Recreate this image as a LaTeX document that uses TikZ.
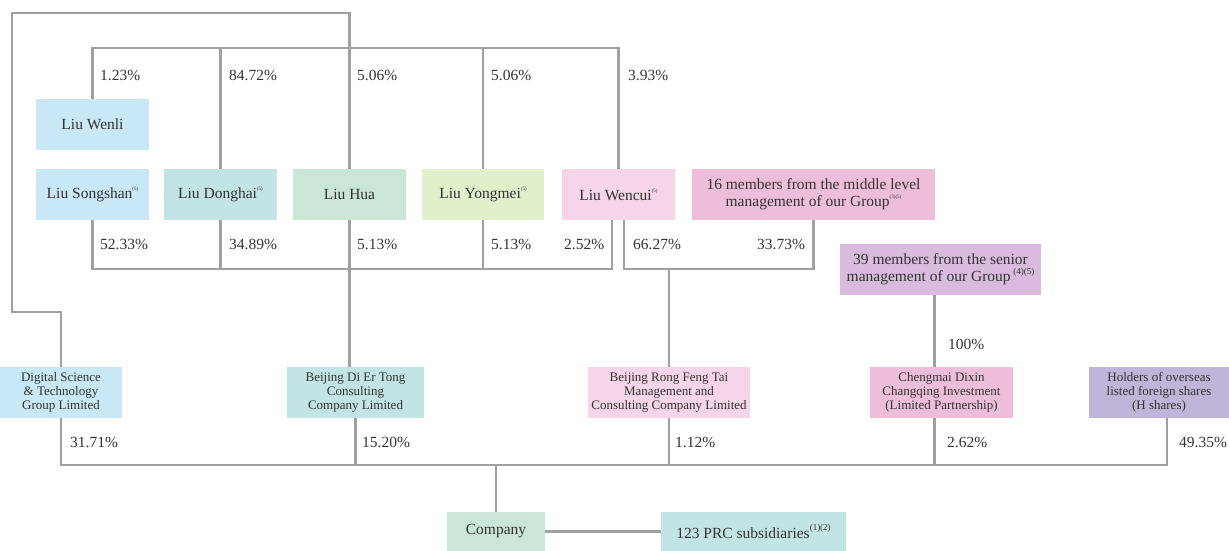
\documentclass[tikz,border=0pt]{standalone}
\usepackage{fontspec}
\setmainfont{Liberation Serif}
\usepackage{tikz}

\definecolor{ink}{HTML}{333333}
\definecolor{wire}{HTML}{A0A0A0}
\definecolor{skyblue}{HTML}{C8E8F6}
\definecolor{teal}{HTML}{C2E4E4}
\definecolor{mint}{HTML}{C9E6D6}
\definecolor{lime}{HTML}{E1EFCB}
\definecolor{rose}{HTML}{F5D5E7}
\definecolor{pink}{HTML}{EDBDD9}
\definecolor{orchid}{HTML}{D9BCDD}
\definecolor{lavender}{HTML}{C0B5D8}

\newcommand{\lbl}{\fontsize{15.5}{17}\selectfont}
\newcommand{\sml}{\fontsize{13}{14}\selectfont}
\newcommand{\fn}[1]{\raisebox{1.1ex}{\fontsize{5}{5}\selectfont #1}}
\newcommand{\fnb}[1]{\raisebox{1.0ex}{\fontsize{9}{9}\selectfont #1}}

\tikzset{
    holder/.style={fill=#1, inner sep=0pt, minimum height=51pt, text=ink, font=\lbl, align=center},
    firm/.style={fill=#1, inner sep=0pt, minimum height=51pt, text=ink, font=\sml, align=center},
    pct/.style={anchor=west, inner sep=0pt, text=ink, font=\lbl},
    link/.style={draw=wire, line width=2.2pt}
}

\begin{document}
\begin{tikzpicture}[x=1pt, y=-1pt]
    \useasboundingbox (0,0) rectangle (1229,551);

    % Individual shareholders
    \node[holder=skyblue, minimum width=113pt] (wenli) at (92.5,124.5) {Liu Wenli};
    \node[holder=skyblue, minimum width=113pt] (songshan) at (92.5,194.5) {Liu Songshan\fn{(5)}};
    \node[holder=teal, minimum width=113pt] (donghai) at (220.5,194.5) {Liu Donghai\fn{(5)}};
    \node[holder=mint, minimum width=113pt] (hua) at (349.5,194.5) {Liu Hua};
    \node[holder=lime, minimum width=122pt] (yongmei) at (483,194.5) {Liu Yongmei\fn{(5)}};
    \node[holder=rose, minimum width=113pt] (wencui) at (618.5,194.5) {Liu Wencui\fn{(5)}};
    \node[holder=pink, minimum width=243pt] (middle) at (813.5,194.5) {16 members from the middle level\\ management of our Group\fn{(3)(5)}};
    \node[holder=orchid, minimum width=201pt] (senior) at (940.5,269.5) {39 members from the senior\\ management of our Group\,\fnb{(4)(5)}};

    % Corporate shareholders
    \node[firm=skyblue, minimum width=122pt] (digital) at (61,392.5) {Digital Science\\ \& Technology\\ Group Limited};
    \node[firm=teal, minimum width=137pt] (diertong) at (355.5,392.5) {Beijing Di Er Tong\\ Consulting\\ Company Limited};
    \node[firm=rose, minimum width=162pt] (rongfeng) at (669,392.5) {Beijing Rong Feng Tai\\ Management and\\ Consulting Company Limited};
    \node[firm=pink, minimum width=143pt] (chengmai) at (941.5,392.5) {Chengmai Dixin\\ Changqing Investment\\ (Limited Partnership)};
    \node[firm=lavender, minimum width=140pt] (hshares) at (1159,392.5) {Holders of overseas\\ listed foreign shares\\ (H shares)};

    % Company and subsidiaries
    \node[holder=mint, minimum width=98pt, minimum height=39pt] (company) at (496,531.5) {Company};
    \node[holder=teal, minimum width=185pt, minimum height=39pt] (prc) at (753.5,531.5) {123 PRC subsidiaries\fnb{(1)(2)}};

    % Bar heights
    \coordinate (topbar) at (0,48);
    \coordinate (midbar) at (0,269);
    \coordinate (lowbar) at (0,465);
    \coordinate (loop) at (12,13);
    \coordinate (knee) at (12,312);

    % Holdings in Digital Science
    \draw[link] (wenli.north) |- (wencui.north |- topbar) -- (wencui.north);
    \draw[link] (donghai.north) -- (donghai.north |- topbar);
    \draw[link] (yongmei.north) -- (yongmei.north |- topbar);
    \draw[link] (hua.north) -- (hua.north |- loop) -- (loop) -- (knee) -| (digital.north);

    % Holdings in Di Er Tong
    \draw[link] (songshan.south) |- ([xshift=-6.5pt]wencui.south |- midbar) -- ([xshift=-6.5pt]wencui.south);
    \draw[link] (donghai.south) -- (donghai.south |- midbar);
    \draw[link] (yongmei.south) -- (yongmei.south |- midbar);
    \draw[link] (hua.south) -- (hua.south |- diertong.north);

    % Holdings in Rong Feng Tai
    \draw[link] ([xshift=5.5pt]wencui.south) |- (middle.south |- midbar) -- (middle.south);
    \draw[link] (rongfeng.north) -- (rongfeng.north |- midbar);

    % Holding in Chengmai
    \draw[link] ([xshift=-7pt]chengmai.north) -- ([xshift=-7pt]chengmai.north |- senior.south);

    % Holdings in the Company
    \draw[link] (digital.south) |- ([xshift=8pt]hshares.south |- lowbar) -- ([xshift=8pt]hshares.south);
    \draw[link] (diertong.south) -- (diertong.south |- lowbar);
    \draw[link] (rongfeng.south) -- (rongfeng.south |- lowbar);
    \draw[link] ([xshift=-7pt]chengmai.south) -- ([xshift=-7pt]chengmai.south |- lowbar);
    \draw[link] (company.north) -- (company.north |- lowbar);
    \draw[link] (company.east) -- (prc.west);

    % Percentages, top row
    \node[pct] (pa) at (100,75) {1.23\%};
    \node[pct] (pb) at (229,75) {84.72\%};
    \node[pct] (pc) at (357,75) {5.06\%};
    \node[pct] (pd) at (491,75) {5.06\%};
    \node[pct] (pe) at (628,75) {3.93\%};

    % Percentages, middle row
    \node[pct] (pf) at (100,244) {52.33\%};
    \node[pct] (pg) at (229,244) {34.89\%};
    \node[pct] (ph) at (357,244) {5.13\%};
    \node[pct] (pi) at (491,244) {5.13\%};
    \node[pct] (pj) at (564,244) {2.52\%};
    \node[pct] (pk) at (633,244) {66.27\%};
    \node[pct] (pl) at (757,244) {33.73\%};
    \node[pct] (pm) at (948,344) {100\%};

    % Percentages, bottom row
    \node[pct] (pn) at (70,442) {31.71\%};
    \node[pct] (po) at (362,442) {15.20\%};
    \node[pct] (pp) at (675,442) {1.12\%};
    \node[pct] (pq) at (947,442) {2.62\%};
    \node[pct] (pr) at (1179,442) {49.35\%};
\end{tikzpicture}
\end{document}
